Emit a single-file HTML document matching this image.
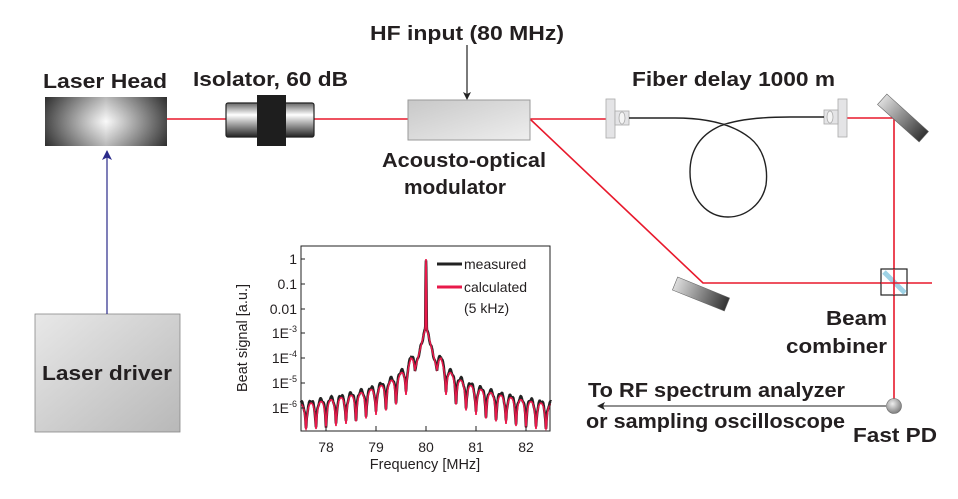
<!DOCTYPE html>
<html><head><meta charset="utf-8"><style>html,body{margin:0;padding:0;background:#fff}svg{display:block}</style></head>
<body>
<svg width="958" height="499" viewBox="0 0 958 499" xmlns="http://www.w3.org/2000/svg" font-family="Liberation Sans, Arial, sans-serif">
<defs>
<radialGradient id="lh" cx="0.5" cy="0.5" r="0.7"><stop offset="0" stop-color="#fff"/><stop offset="1" stop-color="#333"/></radialGradient>
<linearGradient id="lhx" x1="0" x2="1"><stop offset="0" stop-color="#2a2a2a"/><stop offset="0.5" stop-color="#f5f5f5"/><stop offset="1" stop-color="#2a2a2a"/></linearGradient>
<linearGradient id="iso" x1="0" y1="0" x2="0" y2="1"><stop offset="0" stop-color="#666"/><stop offset="0.35" stop-color="#fff"/><stop offset="0.7" stop-color="#888"/><stop offset="1" stop-color="#222"/></linearGradient>
<linearGradient id="aom" x1="0" y1="0" x2="1" y2="1"><stop offset="0" stop-color="#c8c8c8"/><stop offset="1" stop-color="#eee"/></linearGradient>
<linearGradient id="drv" x1="0" y1="0" x2="1" y2="1"><stop offset="0" stop-color="#e8e8e8"/><stop offset="1" stop-color="#b8b8b8"/></linearGradient>
<linearGradient id="mir" x1="0" x2="1"><stop offset="0" stop-color="#ddd"/><stop offset="1" stop-color="#333"/></linearGradient>
<radialGradient id="pd" cx="0.4" cy="0.35" r="0.7"><stop offset="0" stop-color="#eee"/><stop offset="1" stop-color="#777"/></radialGradient>
<marker id="ah" markerWidth="8" markerHeight="8" refX="7" refY="4" orient="auto" markerUnits="userSpaceOnUse"><path d="M0,0 L8,4 L0,8 L2,4z" fill="#222"/></marker>
<marker id="ahb" markerWidth="10" markerHeight="10" refX="9" refY="5" orient="auto" markerUnits="userSpaceOnUse"><path d="M0,0 L10,5 L0,10 L2.5,5z" fill="#2a2a8a"/></marker>
</defs>

<g stroke="#e8192c" stroke-width="1.6" fill="none">
<line x1="167" y1="119" x2="226" y2="119"/>
<line x1="314" y1="119" x2="408" y2="119"/>
<line x1="530" y1="119" x2="606" y2="119"/>
<line x1="847" y1="118" x2="894" y2="118"/>
<line x1="894" y1="118" x2="894" y2="400"/>
<polyline points="530,119 703,283 932,283"/>
</g>

<rect x="45" y="97" width="122" height="49" fill="url(#lhx)"/>
<rect x="45" y="97" width="122" height="49" fill="url(#lh)" opacity="0.45"/>
<rect x="226" y="103" width="88" height="34" rx="2" fill="url(#iso)" stroke="#222" stroke-width="1.2"/>
<rect x="257" y="95" width="29" height="51" fill="#1e1e1e"/>
<rect x="408" y="100" width="122" height="40" fill="url(#aom)" stroke="#999" stroke-width="1"/>
<line x1="467" y1="45" x2="467" y2="99" stroke="#222" stroke-width="1.2" marker-end="url(#ah)"/>

<g fill="#e4e4e6" stroke="#aaa" stroke-width="0.8">
<rect x="606" y="99" width="9" height="39"/><rect x="615" y="111" width="14" height="14"/>
<ellipse cx="622" cy="118" rx="3" ry="6" fill="#f4f4f4"/>
<rect x="838" y="99" width="9" height="38"/><rect x="824" y="110" width="14" height="14"/>
<ellipse cx="830" cy="117" rx="3" ry="6" fill="#f4f4f4"/>
</g>
<path d="M629,118 L675,118 C700,118 730,122 750,138 C765,150 768,170 766,185 C762,205 745,217 728,217 C708,217 690,200 690,172 C690,150 700,135 720,126 C740,118 770,117 790,117 L824,117" fill="none" stroke="#222" stroke-width="1.4"/>

<rect x="875" y="111" width="56" height="14" fill="url(#mir)" stroke="#666" stroke-width="0.6" transform="rotate(42 903 118)"/>
<rect x="673" y="287" width="56" height="14" fill="url(#mir)" stroke="#666" stroke-width="0.6" transform="rotate(22 701 294)"/>
<rect x="881" y="269" width="26" height="26" fill="#fff" stroke="#222" stroke-width="1.2"/>
<line x1="884" y1="272" x2="905" y2="293" stroke="#9fd3e6" stroke-width="5"/>
<line x1="881" y1="283" x2="907" y2="283" stroke="#e8192c" stroke-width="1.6"/>
<line x1="894" y1="269" x2="894" y2="295" stroke="#e8192c" stroke-width="1.6"/>
<circle cx="894" cy="406" r="7.5" fill="url(#pd)" stroke="#666" stroke-width="0.6"/>
<line x1="886" y1="406" x2="598" y2="406" stroke="#222" stroke-width="1.1" marker-end="url(#ah)"/>

<rect x="35" y="314" width="145" height="118" fill="url(#drv)" stroke="#888" stroke-width="0.8"/>
<line x1="107" y1="314" x2="107" y2="151" stroke="#2a2a8a" stroke-width="1.2" marker-end="url(#ahb)"/>

<g font-weight="bold" fill="#231f20" font-size="20">
<text x="467" y="40" text-anchor="middle" textLength="194" lengthAdjust="spacingAndGlyphs">HF input (80 MHz)</text>
<text x="43" y="88" textLength="124" lengthAdjust="spacingAndGlyphs">Laser Head</text>
<text x="193" y="86" textLength="155" lengthAdjust="spacingAndGlyphs">Isolator, 60 dB</text>
<text x="382" y="167" textLength="164" lengthAdjust="spacingAndGlyphs">Acousto-optical</text>
<text x="455" y="194" text-anchor="middle" textLength="102" lengthAdjust="spacingAndGlyphs">modulator</text>
<text x="632" y="86" textLength="203" lengthAdjust="spacingAndGlyphs">Fiber delay 1000 m</text>
<text x="887" y="325" text-anchor="end" textLength="61" lengthAdjust="spacingAndGlyphs">Beam</text>
<text x="887" y="353" text-anchor="end" textLength="101" lengthAdjust="spacingAndGlyphs">combiner</text>
<text x="588" y="397" textLength="257" lengthAdjust="spacingAndGlyphs">To RF spectrum analyzer</text>
<text x="586" y="428" textLength="259" lengthAdjust="spacingAndGlyphs">or sampling oscilloscope</text>
<text x="853" y="442" textLength="84" lengthAdjust="spacingAndGlyphs">Fast PD</text>
<text x="107" y="380" text-anchor="middle" textLength="130" lengthAdjust="spacingAndGlyphs">Laser driver</text>
</g>

<g id="plot">
<path id="cb" fill="none" stroke="#222" stroke-width="2.6"/>
<path id="cr" fill="none" stroke="#e8194a" stroke-width="1.6"/>
<rect x="301" y="246" width="249" height="185" fill="none" stroke="#222" stroke-width="1"/>
<g stroke="#222" stroke-width="1">
<line x1="326" y1="431" x2="326" y2="426"/><line x1="376" y1="431" x2="376" y2="426"/><line x1="426" y1="431" x2="426" y2="426"/><line x1="476" y1="431" x2="476" y2="426"/><line x1="526" y1="431" x2="526" y2="426"/>
<line x1="301" y1="259" x2="305" y2="259"/><line x1="301" y1="284" x2="305" y2="284"/><line x1="301" y1="309" x2="305" y2="309"/><line x1="301" y1="333" x2="305" y2="333"/><line x1="301" y1="358" x2="305" y2="358"/><line x1="301" y1="383" x2="305" y2="383"/><line x1="301" y1="408" x2="305" y2="408"/>
</g>
<g font-size="14" fill="#231f20" text-anchor="middle">
<text x="326" y="452">78</text><text x="376" y="452">79</text><text x="426" y="452">80</text><text x="476" y="452">81</text><text x="526" y="452">82</text>
<text x="425" y="469" font-size="14.5">Frequency [MHz]</text>
</g>
<g font-size="14" fill="#231f20" text-anchor="end">
<text x="297" y="264">1</text><text x="297" y="289">0.1</text><text x="297" y="314">0.01</text>
<text x="297" y="338">1E<tspan font-size="9" dy="-6">-3</tspan></text>
<text x="297" y="363">1E<tspan font-size="9" dy="-6">-4</tspan></text>
<text x="297" y="388">1E<tspan font-size="9" dy="-6">-5</tspan></text>
<text x="297" y="413">1E<tspan font-size="9" dy="-6">-6</tspan></text>
</g>
<text transform="translate(247 338) rotate(-90)" font-size="14.5" fill="#231f20" text-anchor="middle">Beat signal [a.u.]</text>
<line x1="437" y1="264" x2="462" y2="264" stroke="#222" stroke-width="3"/>
<line x1="437" y1="287" x2="462" y2="287" stroke="#e8194a" stroke-width="3"/>
<g font-size="14" fill="#231f20"><text x="464" y="269">measured</text><text x="464" y="292">calculated</text><text x="464" y="313">(5 kHz)</text></g>
</g>
<script>
(function(){
function env(d){
  var L=Math.log10(Math.max(d,0.3)/0.3);
  if(!(L>0)) L=0;
  return -4 - 2.0*Math.pow(L,0.8);
}
function val(f,off){
  var d=Math.abs(f-80);
  var c=Math.cos(Math.PI*(d-0.1)/0.2);
  var side=env(d)+0.55*Math.log10(c*c+0.01)+off;
  var cen=-2.7-8*d;
  var sp=Math.log10(Math.exp(-Math.pow(d/0.006,2))+1e-9);
  var v=Math.max(side,cen,sp);
  return v;
}
function mk(off,jit){
  var s="";
  for(var i=0;i<=1000;i++){
    var f=77.5+5*i/1000;
    var v=val(f,off)+(jit?(Math.sin(i*12.9898)*0.06):0);
    var x=301+(f-77.5)*50, y=259-24.8*v;
    if(!isFinite(y)) y=420;
    if(y>429)y=429; if(y<259)y=259;
    s+=(i?"L":"M")+x.toFixed(1)+","+y.toFixed(1);
  }
  return s;
}
document.getElementById("cb").setAttribute("d",mk(0.08,true));
document.getElementById("cr").setAttribute("d",mk(0,false));
})();
</script>
</svg>
</body></html>
